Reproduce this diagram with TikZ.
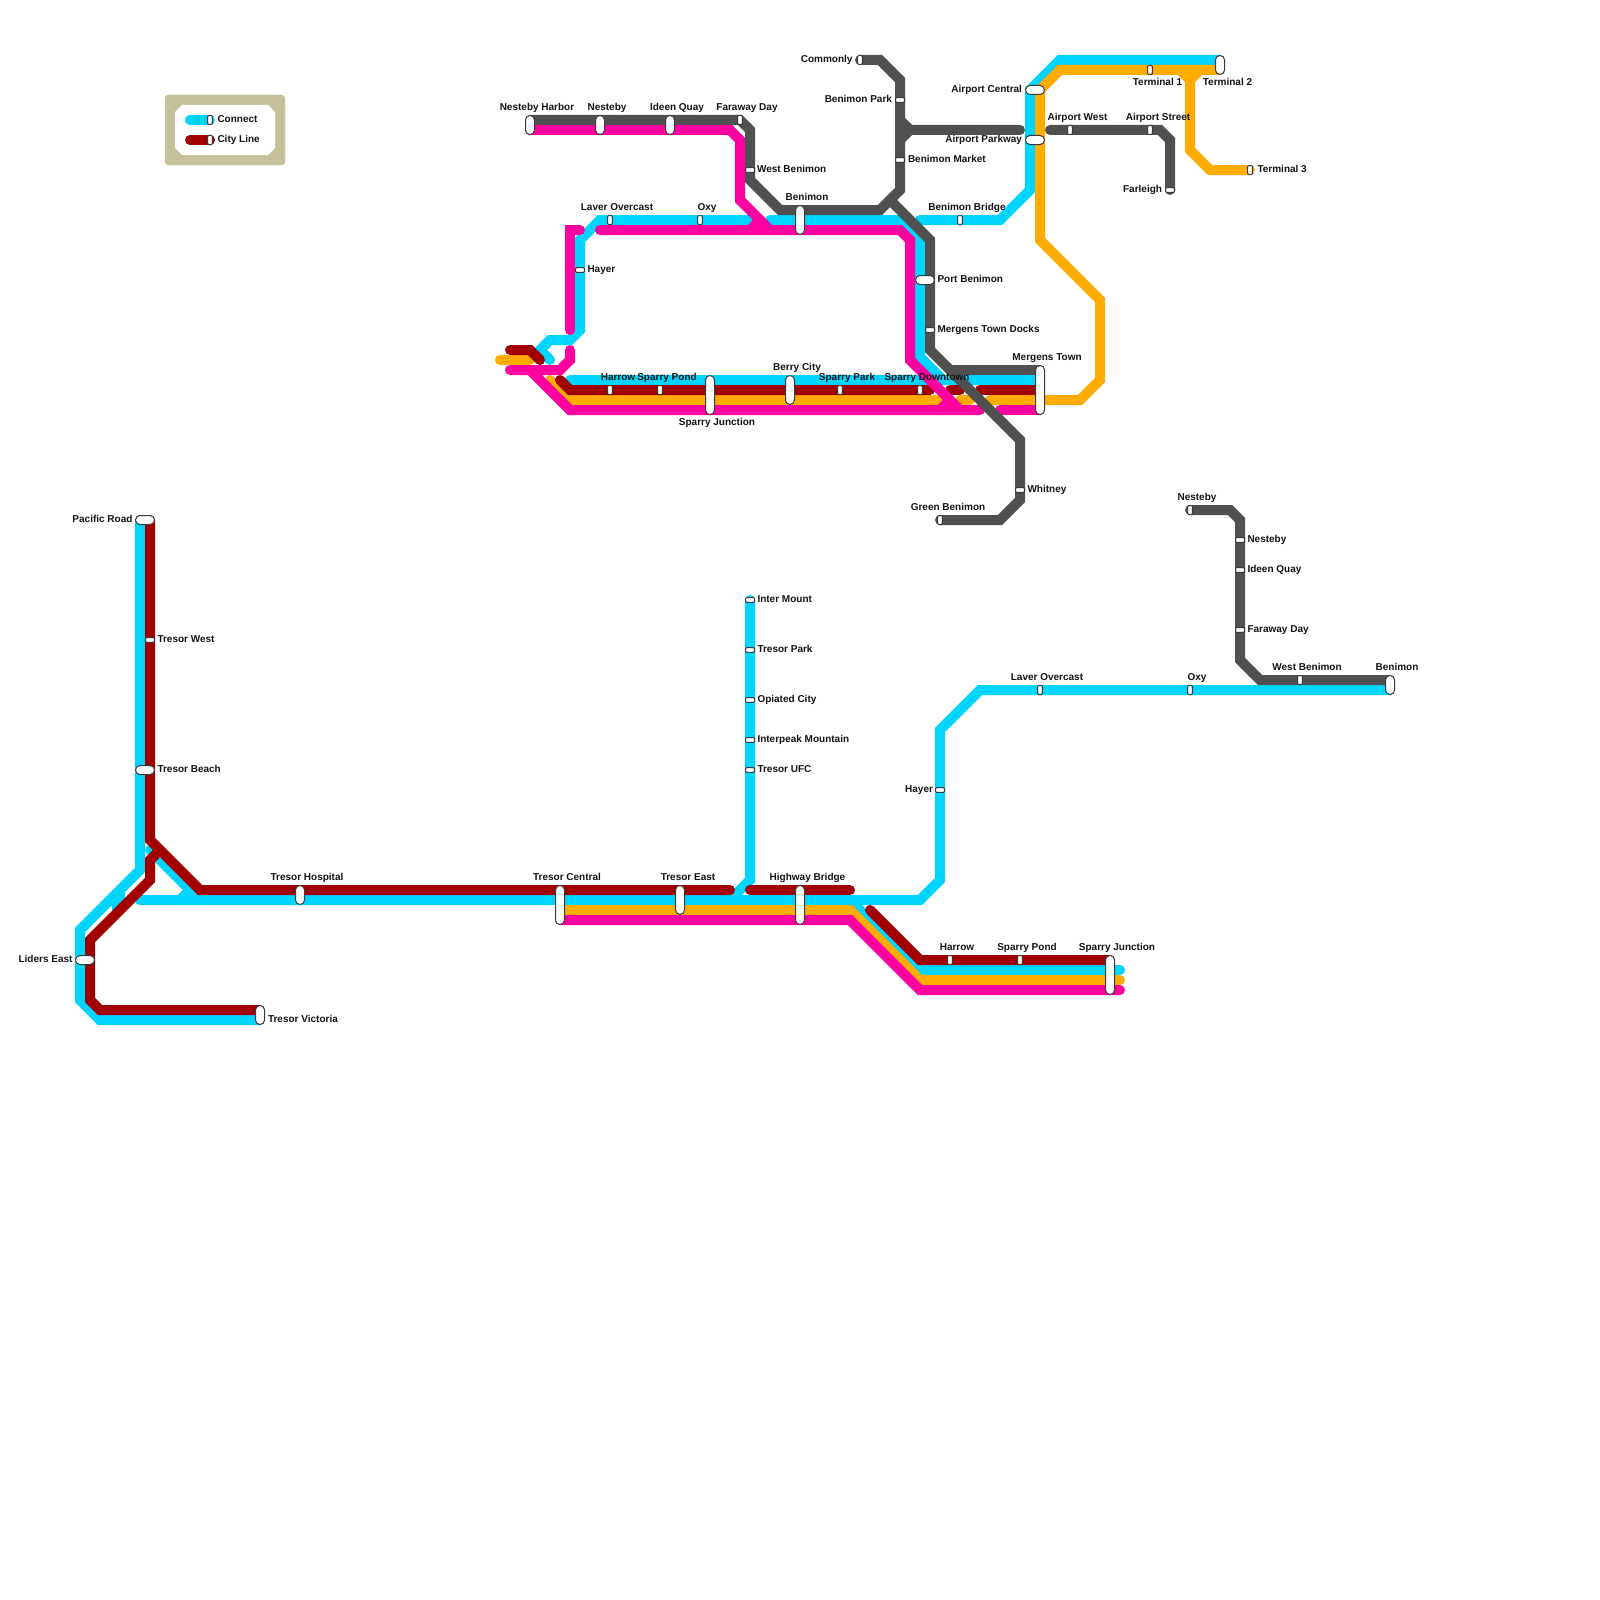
\documentclass[tikz,border=0pt]{standalone}
\usepackage{fontspec}
\setmainfont{Liberation Sans}
\pgfdeclarelayer{lines}
\pgfsetlayers{lines,main}
\definecolor{cyanL}{HTML}{00D5FF}
\definecolor{magL}{HTML}{FF00A0}
\definecolor{orgL}{HTML}{FFAB00}
\definecolor{redL}{HTML}{A00000}
\definecolor{gryL}{HTML}{505050}
\definecolor{khaki}{HTML}{C4C19A}
\definecolor{stnrim}{HTML}{3A3A3A}
\tikzset{
  x=1pt,y=-1pt,
  metro/.style={line width=10pt,line cap=round,line join=miter,miter limit=4},
  cyL/.style={metro,draw=cyanL},
  mgL/.style={metro,draw=magL},
  orL/.style={metro,draw=orgL},
  rdL/.style={metro,draw=redL},
  gyL/.style={metro,draw=gryL},
  stnbase/.style={draw=stnrim,fill=white,line width=1pt,inner sep=0pt,outer sep=0pt,shape=rectangle},
  stnV/.style={stnbase,minimum width=4.6pt,minimum height=9pt,rounded corners=1pt},
  stnH/.style={stnbase,minimum width=9pt,minimum height=4.6pt,rounded corners=1pt},
  stnC/.style n args={2}{stnbase,minimum width=#1pt,minimum height=#2pt,rounded corners=4.4pt},
  lab/.style={inner sep=0pt,outer sep=0pt,text=black!92,text height=7.2pt,text depth=0pt,font=\fontsize{10}{10}\selectfont\bfseries},
}
\begin{document}
\begin{tikzpicture}
\useasboundingbox (0,0) rectangle (1600,1600);
\begin{pgfonlayer}{lines}
\fill[white] (0,0) rectangle (1600,1600);
% legend
\fill[khaki,rounded corners=3pt] (165,95) rectangle (285,165);
\fill[white] (182,105) -- (268,105) -- (275,112) -- (275,148) -- (268,155) -- (182,155) -- (175,148) -- (175,112) -- cycle;
\end{pgfonlayer}
\node[stnV] (legA) at (210,120) {};
\node[stnV] (legB) at (210,140) {};
\node[lab,anchor=west] (legAt) at (217.5,119) {Connect};
\node[lab,anchor=west] (legBt) at (217.5,139) {City Line};
% stations and labels: top network
\node[stnC={9}{19}] (nhar) at (530,125) {};
\node[lab] (nharT) at (537,107) {Nesteby Harbor};
\node[stnC={9}{19}] (nest) at (600,125) {};
\node[lab] (nestT) at (607,107) {Nesteby};
\node[stnC={9}{19}] (idea) at (670,125) {};
\node[lab] (ideaT) at (677,107) {Ideen Quay};
\node[stnV] (fara) at (740,120) {};
\node[lab] (faraT) at (747,107) {Faraway Day};
\node[stnH] (wben) at (750,170) {};
\node[lab,anchor=west] (wbenT) at (757,169) {West Benimon};
\node[stnC={9}{29}] (beni) at (800,220) {};
\node[lab] (beniT) at (807,197) {Benimon};
\node[stnV] (bbri) at (960,220) {};
\node[lab] (bbriT) at (967,207) {Benimon Bridge};
\node[stnV] (lave) at (610,220) {};
\node[lab] (laveT) at (617,207) {Laver Overcast};
\node[stnV] (oxya) at (700,220) {};
\node[lab] (oxyaT) at (707,207) {Oxy};
\node[stnH] (haya) at (580,270) {};
\node[lab,anchor=west] (hayaT) at (587.5,269) {Hayer};
\node[stnV] (harr) at (610,390) {};
\node[lab] (harrT) at (618,377) {Harrow};
\node[stnV] (spon) at (660,390) {};
\node[lab] (sponT) at (667,377) {Sparry Pond};
\node[stnC={9}{39}] (sjun) at (710,395) {};
\node[lab] (sjunT) at (717,421.5) {Sparry Junction};
\node[stnC={9}{29}] (berr) at (790,390) {};
\node[lab] (berrT) at (797,367) {Berry City};
\node[stnV] (spar) at (840,390) {};
\node[lab] (sparT) at (847,377) {Sparry Park};
\node[stnV] (sdow) at (920,390) {};
\node[lab] (sdowT) at (927,377) {Sparry Downtown};
\node[stnC={9}{49}] (merg) at (1040,390) {};
\node[lab] (mergT) at (1047,357) {Mergens Town};
\node[stnH] (mdoc) at (930,330) {};
\node[lab,anchor=west] (mdocT) at (937.5,329) {Mergens Town Docks};
\node[stnC={19}{9}] (pben) at (925,280) {};
\node[lab,anchor=west] (pbenT) at (937.5,279) {Port Benimon};
\node[stnH] (bpar) at (900,100) {};
\node[lab,anchor=east] (bparT) at (892,99) {Benimon Park};
\node[stnH] (bmar) at (900,160) {};
\node[lab,anchor=west] (bmarT) at (908,159) {Benimon Market};
\node[stnV] (comm) at (860,60) {};
\node[lab,anchor=east] (commT) at (852.5,59) {Commonly};
\node[stnC={19}{9}] (acen) at (1035,90) {};
\node[lab,anchor=east] (acenT) at (1022,89) {Airport Central};
\node[stnC={19}{9}] (apar) at (1035,140) {};
\node[lab,anchor=east] (aparT) at (1022,139) {Airport Parkway};
\node[stnV] (awes) at (1070,130) {};
\node[lab] (awesT) at (1077.5,117) {Airport West};
\node[stnV] (astr) at (1150,130) {};
\node[lab] (astrT) at (1158,117) {Airport Street};
\node[stnH] (farl) at (1170,190) {};
\node[lab,anchor=east] (farlT) at (1162,189) {Farleigh};
\node[stnV] (ter1) at (1150,70) {};
\node[lab] (ter1T) at (1157.5,81.5) {Terminal 1};
\node[stnC={9}{19}] (ter2) at (1220,65) {};
\node[lab] (ter2T) at (1227.5,81.5) {Terminal 2};
\node[stnV] (ter3) at (1250,170) {};
\node[lab,anchor=west] (ter3T) at (1257.5,169) {Terminal 3};
\node[stnH] (whit) at (1020,490) {};
\node[lab,anchor=west] (whitT) at (1027.5,489) {Whitney};
\node[stnV] (gben) at (940,520) {};
\node[lab] (gbenT) at (948,507) {Green Benimon};
% right network
\node[stnV] (nes2) at (1190,510) {};
\node[lab] (nes2T) at (1197,497) {Nesteby};
\node[stnH] (nes3) at (1240,540) {};
\node[lab,anchor=west] (nes3T) at (1247.5,539) {Nesteby};
\node[stnH] (ide2) at (1240,570) {};
\node[lab,anchor=west] (ide2T) at (1247.5,569) {Ideen Quay};
\node[stnH] (far2) at (1240,630) {};
\node[lab,anchor=west] (far2T) at (1247.5,629) {Faraway Day};
\node[stnV] (wbe2) at (1300,680) {};
\node[lab] (wbe2T) at (1307,667) {West Benimon};
\node[stnC={9}{19}] (ben2) at (1390,685) {};
\node[lab] (ben2T) at (1397,667) {Benimon};
\node[stnV] (lav2) at (1040,690) {};
\node[lab] (lav2T) at (1047,677) {Laver Overcast};
\node[stnV] (oxy2) at (1190,690) {};
\node[lab] (oxy2T) at (1197,677) {Oxy};
\node[stnH] (hay2) at (940,790) {};
\node[lab,anchor=east] (hay2T) at (933,789) {Hayer};
% middle column
\node[stnH] (imou) at (750,600) {};
\node[lab,anchor=west] (imouT) at (757.5,599) {Inter Mount};
\node[stnH] (tpar) at (750,650) {};
\node[lab,anchor=west] (tparT) at (757.5,649) {Tresor Park};
\node[stnH] (opia) at (750,700) {};
\node[lab,anchor=west] (opiaT) at (757.5,699) {Opiated City};
\node[stnH] (intp) at (750,740) {};
\node[lab,anchor=west] (intpT) at (757.5,739) {Interpeak Mountain};
\node[stnH] (tufc) at (750,770) {};
\node[lab,anchor=west] (tufcT) at (757.5,769) {Tresor UFC};
% left network
\node[stnC={19}{9}] (paci) at (145,520) {};
\node[lab,anchor=east] (paciT) at (132.5,519) {Pacific Road};
\node[stnH] (twes) at (150,640) {};
\node[lab,anchor=west] (twesT) at (157.5,639) {Tresor West};
\node[stnC={19}{9}] (tbea) at (145,770) {};
\node[lab,anchor=west] (tbeaT) at (157.5,769) {Tresor Beach};
\node[stnC={19}{9}] (lide) at (85,960) {};
\node[lab,anchor=east] (lideT) at (72.5,959) {Liders East};
\node[stnC={9}{19}] (tvic) at (260,1015) {};
\node[lab,anchor=west] (tvicT) at (268,1019) {Tresor Victoria};
\node[stnC={9}{19}] (thos) at (300,895) {};
\node[lab] (thosT) at (307,876.5) {Tresor Hospital};
\node[stnC={9}{39}] (tcen) at (560,905) {};
\node[lab] (tcenT) at (567,876.5) {Tresor Central};
\node[stnC={9}{29}] (teas) at (680,900) {};
\node[lab] (teasT) at (688,876.5) {Tresor East};
\node[stnC={9}{39}] (hbri) at (800,905) {};
\node[lab] (hbriT) at (807.5,876.5) {Highway Bridge};
\node[stnV] (har2) at (950,960) {};
\node[lab] (har2T) at (957,947) {Harrow};
\node[stnV] (spo2) at (1020,960) {};
\node[lab] (spo2T) at (1027,947) {Sparry Pond};
\node[stnC={9}{39}] (sju2) at (1110,975) {};
\node[lab] (sju2T) at (1117,947) {Sparry Junction};
% named free ends of lines
\coordinate (cyLeftEnd) at (550,360);
\coordinate (cyUpA) at (750,220);
\coordinate (cyUpB) at (770,220);
\coordinate (cyRowL) at (570,380);
\coordinate (cyRowR) at (1040,380);
\coordinate (cyBrid) at (920,220);
\coordinate (cyTopR) at (1220,60);
\coordinate (cyPac) at (140,520);
\coordinate (cyVic) at (260,1020);
\coordinate (cyBaseL) at (140,900);
\coordinate (cyBaseR) at (1390,690);
\coordinate (cySplit) at (850,900);
\coordinate (cyEnd) at (1120,970);
\coordinate (orStub) at (500,360);
\coordinate (orStubR) at (530,360);
\coordinate (orL) at (550,380);
\coordinate (orM) at (940,400);
\coordinate (orN) at (960,400);
\coordinate (orO) at (970,400);
\coordinate (orP) at (990,400);
\coordinate (orT) at (1220,70);
\coordinate (orBranch) at (1180,70);
\coordinate (orT3) at (1250,170);
\coordinate (orLow) at (560,910);
\coordinate (orEnd) at (1120,980);
\coordinate (rdStub) at (510,350);
\coordinate (rdStubE) at (540,360);
\coordinate (rdMainL) at (560,380);
\coordinate (rdMainR) at (930,390);
\coordinate (rdMidL) at (950,390);
\coordinate (rdMidR) at (960,390);
\coordinate (rdEndL) at (980,390);
\coordinate (rdEndR) at (1040,390);
\coordinate (rdPac) at (150,520);
\coordinate (rdTrunk) at (730,890);
\coordinate (rdJoin) at (160,850);
\coordinate (rdVic) at (260,1010);
\coordinate (rdHigL) at (750,890);
\coordinate (rdHigR) at (850,890);
\coordinate (rdDiag) at (870,910);
\coordinate (rdDiagE) at (1110,960);
\coordinate (mgTop) at (530,130);
\coordinate (mgUpV) at (570,330);
\coordinate (mgUpE) at (580,230);
\coordinate (mgKinkT) at (570,350);
\coordinate (mgKinkE) at (510,370);
\coordinate (mgRowL) at (530,370);
\coordinate (mgRowR) at (980,410);
\coordinate (mgRowE) at (1000,410);
\coordinate (mgRowM) at (1040,410);
\coordinate (mgLeft) at (600,230);
\coordinate (mgCross) at (770,230);
\coordinate (mgStubA) at (750,230);
\coordinate (mgStubB) at (760,220);
\coordinate (mgStubC) at (940,410);
\coordinate (mgStubD) at (950,400);
\coordinate (mgLow) at (560,920);
\coordinate (mgEnd) at (1120,990);
\coordinate (gyNes) at (530,120);
\coordinate (gyRight) at (1020,130);
\coordinate (gyBrA) at (900,120);
\coordinate (gyBrB) at (900,140);
\coordinate (gyDown) at (890,200);
\coordinate (gyMerS) at (950,370);
\coordinate (gyMerE) at (1040,370);
\coordinate (gyAir) at (1050,130);
\coordinate (gyRow) at (1390,680);
% lines, lowest first
\begin{pgfonlayer}{lines}
\draw[cyL] (cyUpA) -- (600,220) -- (580,240) -- (580,330) -- (570,340) -- (550,340) -- (540,350) -- (cyLeftEnd);
\draw[cyL] (cyUpB) -- (900,220) -- (920,240) -- (920,357) -- (943,380) -- (cyRowR);
\draw[cyL] (cyRowL) -- (cyRowR);
\draw[cyL] (cyBrid) -- (1000,220) -- (1030,190) -- (1030,90) -- (1060,60) -- (cyTopR);
\draw[cyL] (cyPac) -- (140,870) -- (80,930) -- (80,1000) -- (100,1020) -- (cyVic);
\draw[cyL] (cyBaseL) -- (920,900) -- (940,880) -- (940,730) -- (980,690) -- (cyBaseR);
\draw[cyL] (150,850) -- (200,900);
\draw[cyL] (180,900) -- (190,890);
\draw[cyanL,line width=13pt] (118.5,892) -- (118.5,912);
\draw[cyL] (imou.center) -- (750,880) -- (730,900);
\draw[cyL] (cySplit) -- (920,970) -- (cyEnd);
\draw[orL] (orStub) -- (orStubR);
\draw[orL] (orL) -- (570,400) -- (orM);
\draw[orL] (orN) -- (orO);
\draw[orL] (orP) -- (1080,400) -- (1100,380) -- (1100,300) -- (1040,240) -- (1040,90) -- (1060,70) -- (orT);
\draw[orL] (orBranch) -- (1190,80) -- (1190,150) -- (1210,170) -- (orT3);
\draw[orL] (1200,70) -- (1190,80);
\draw[orL] (orLow) -- (850,910) -- (920,980) -- (orEnd);
\draw[rdL] (rdStub) -- (530,350) -- (rdStubE);
\draw[rdL] (rdMainL) -- (570,390) -- (rdMainR);
\draw[rdL] (rdMidL) -- (rdMidR);
\draw[rdL] (rdEndL) -- (rdEndR);
\draw[rdL] (rdPac) -- (150,840) -- (200,890) -- (rdTrunk);
\draw[rdL] (rdJoin) -- (150,860) -- (150,880) -- (90,940) -- (90,1000) -- (100,1010) -- (rdVic);
\draw[rdL] (rdHigL) -- (rdHigR);
\draw[rdL] (rdDiag) -- (920,960) -- (rdDiagE);
\draw[mgL] (mgUpV) -- (570,230) -- (mgUpE);
\draw[mgL] (mgTop) -- (730,130) -- (740,140) -- (740,200) -- (mgCross);
\draw[mgL] (mgStubA) -- (mgStubB);
\draw[mgL] (mgStubC) -- (mgStubD);
\draw[mgL] (mgKinkT) -- (570,360) -- (560,370) -- (mgKinkE);
\draw[mgL] (mgRowL) -- (570,410) -- (mgRowR);
\draw[mgL] (mgRowE) -- (mgRowM);
\draw[mgL] (mgLeft) -- (900,230) -- (910,240) -- (910,360) -- (960,410);
\draw[mgL] (mgLow) -- (850,920) -- (920,990) -- (mgEnd);
\draw[gyL] (gyNes) -- (740,120) -- (750,130) -- (750,180) -- (780,210) -- (880,210) -- (900,190) -- (900,80) -- (880,60) -- (comm.center);
\draw[gyL] (gyBrA) -- (910,130) -- (gyRight);
\draw[gyL] (gyBrB) -- (910,130);
\draw[gyL] (gyDown) -- (930,240) -- (930,350) -- (1020,440) -- (1020,500) -- (1000,520) -- (gben.center);
\draw[gyL] (gyMerS) -- (gyMerE);
\draw[gyL] (gyAir) -- (1160,130) -- (1170,140) -- (farl.center);
\draw[gyL] (nes2.center) -- (1230,510) -- (1240,520) -- (1240,660) -- (1260,680) -- (gyRow);
\draw[cyL] (190,120) -- (legA.center);
\draw[rdL] (190,140) -- (legB.center);
\end{pgfonlayer}
\end{tikzpicture}
\end{document}
